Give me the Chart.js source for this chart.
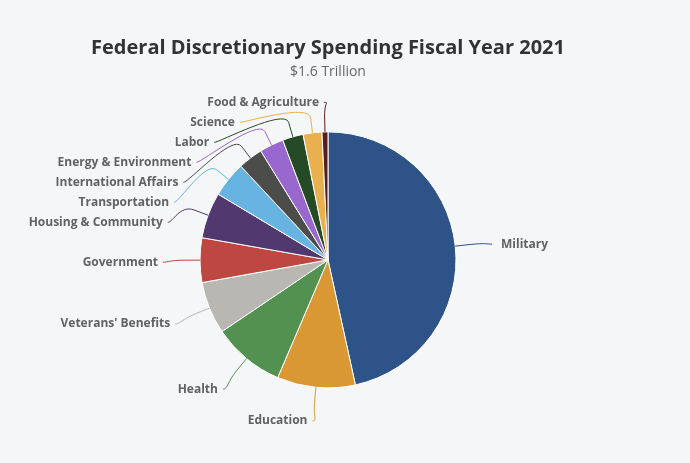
<!DOCTYPE html>
<html>
<head>
<meta charset="utf-8">
<script src="https://cdn.jsdelivr.net/npm/chart.js@4.4.1/dist/chart.umd.min.js"></script>
<style>
  html, body { margin: 0; padding: 0; background: #f5f6f8; }
  #wrap { width: 690px; height: 463px; }
</style>
</head>
<body>
<div id="wrap"><canvas id="pieChart" width="690" height="463"></canvas></div>
<script>
// spending by category, billions of dollars
var categories = ['Military', 'Education', 'Health', "Veterans' Benefits", 'Government',
  'Housing & Community', 'Transportation', 'International Affairs', 'Energy & Environment',
  'Labor', 'Science', 'Food & Agriculture'];
var spending = [746, 158, 146, 106, 90, 93, 72, 50, 49, 42, 38, 12];
var sliceColors = ['#2e5389', '#d99833', '#529150', '#b9b7b2', '#bf4741', '#51396f',
  '#67b4e3', '#4c4d4b', '#9868cf', '#254a26', '#e8b04f', '#5a1c1c'];

// outside labels with curved connectors, placed from the arc elements
var outLabels = {
  id: 'outLabels',
  afterDatasetsDraw: function(chart) {
    var ctx = chart.ctx;
    var arcs = chart.getDatasetMeta(0).data;
    var cx = arcs[0].x, cy = arcs[0].y, r = arcs[0].outerRadius;
    var R = r + 37;
    var top = cy - r - 29.5, bottom = cy + r + 33;

    var items = arcs.map(function(a, i) {
      var mid = (a.startAngle + a.endAngle) / 2;
      var c = Math.cos(mid), s = Math.sin(mid);
      return { i: i, cos: c, sin: s, left: c < 0, ny: cy + s * R + 2 };
    });

    [true, false].forEach(function(side) {
      var list = items.filter(function(o) { return o.left === side; })
        .sort(function(a, b) { return a.ny - b.ny; });
      var prev = -Infinity;
      list.forEach(function(o) {
        o.y = Math.max(o.ny, prev + 20, top);
        prev = o.y;
      });
      var next = Infinity;
      for (var k = list.length - 1; k >= 0; k--) {
        list[k].y = Math.min(list[k].y, next - 20, bottom);
        next = list[k].y;
      }
    });

    ctx.save();
    ctx.font = 'bold 12px "Open Sans"';
    ctx.textBaseline = 'middle';
    items.forEach(function(o) {
      var clamped = o.y <= top + 0.01 || o.y >= bottom - 0.01;
      var yy = clamped ? o.ny : o.y;
      var dy = Math.max(-R, Math.min(R, yy - 2 - cy));
      var dir = o.left ? -1 : 1;
      var ax = cx + dir * Math.sqrt(R * R - dy * dy);
      var ay = o.y;
      var tx = cx + o.cos * r, ty = cy + o.sin * r;
      var bx = cx + o.cos * (r + 15), by = cy + o.sin * (r + 15);

      ctx.strokeStyle = sliceColors[o.i];
      ctx.lineWidth = 1;
      ctx.beginPath();
      ctx.moveTo(ax, ay);
      ctx.bezierCurveTo(ax - dir * 5, ay, 2 * bx - tx, 2 * by - ty, bx, by);
      ctx.lineTo(tx, ty);
      ctx.stroke();

      ctx.fillStyle = '#626262';
      ctx.textAlign = o.left ? 'right' : 'left';
      ctx.fillText(categories[o.i], ax + dir * (o.left ? 5 : 9), ay);
    });
    ctx.restore();
  }
};

var bgPlugin = {
  id: 'bg',
  beforeDraw: function(chart) {
    var ctx = chart.ctx;
    ctx.save();
    ctx.fillStyle = '#f5f6f8';
    ctx.fillRect(0, 0, chart.width, chart.height);
    ctx.restore();
  }
};

var ctx = document.getElementById('pieChart').getContext('2d');
var pieChart = new Chart(ctx, {
  type: 'pie',
  data: {
    labels: categories,
    datasets: [{
      data: spending,
      backgroundColor: sliceColors,
      borderColor: '#ffffff',
      borderWidth: 1
    }]
  },
  options: {
    responsive: false,
    animation: false,
    radius: 128,
    layout: { padding: { left: 0, right: 34, top: 0, bottom: 34 } },
    plugins: {
      legend: { display: false },
      tooltip: { enabled: false },
      title: {
        display: true,
        text: 'Federal Discretionary Spending Fiscal Year 2021',
        color: '#333333',
        font: { family: '"Open Sans"', size: 20, weight: 'bold' },
        padding: { top: 36, bottom: 4 }
      },
      subtitle: {
        display: true,
        text: '$1.6 Trillion',
        color: '#666666',
        font: { family: '"Open Sans"', size: 14 },
        padding: { top: 0, bottom: 10 }
      }
    }
  },
  plugins: [bgPlugin, outLabels]
});
</script>
</body>
</html>
